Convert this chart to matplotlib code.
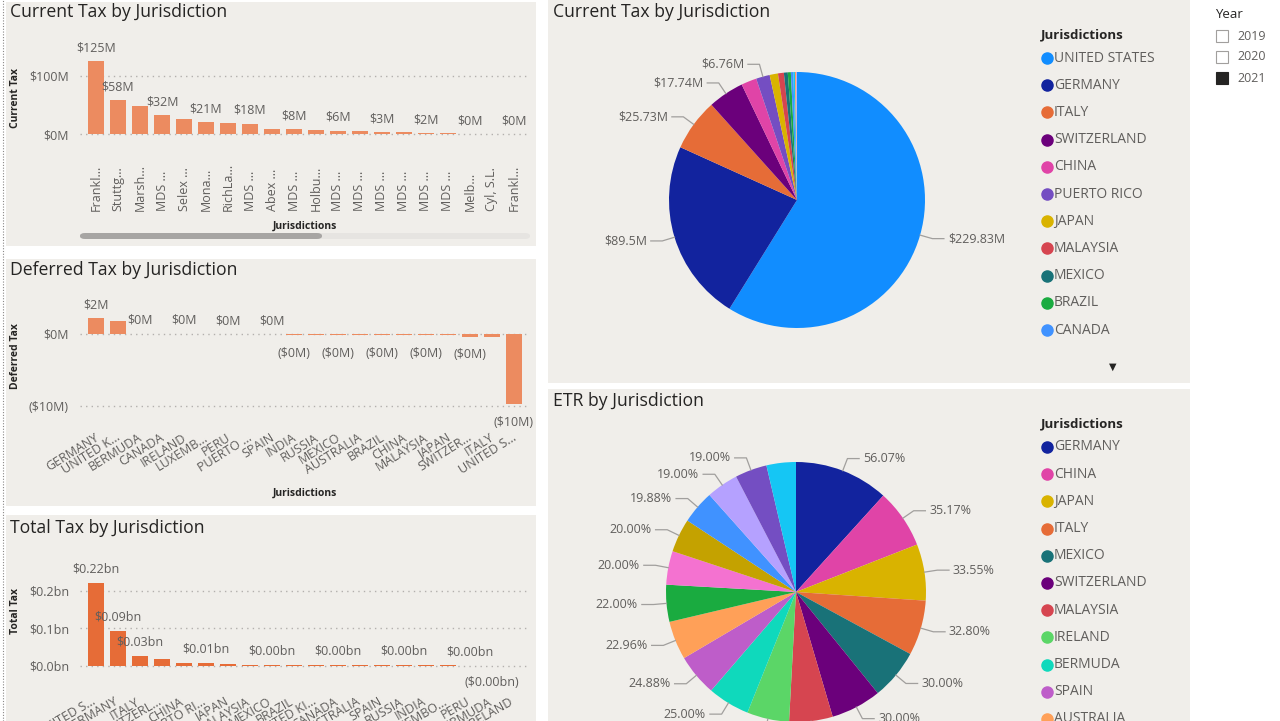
import numpy as np
import matplotlib.pyplot as plt
import matplotlib.transforms as mtransforms
from matplotlib.patches import Rectangle, FancyBboxPatch
from matplotlib.lines import Line2D

plt.rcParams['font.family'] = ['Open Sans', 'DejaVu Sans']

# ---- data -------------------------------------------------------------
cur_entities = ["Frankl...", "Stuttg...", "Marsh...", "MDS ...", "Selex ...", "Mona...",
                "RichLa...", "MDS ...", "Abex ...", "MDS ...", "Holbu...", "MDS ...",
                "MDS ...", "MDS ...", "MDS ...", "MDS ...", "MDS ...", "Melb...",
                "Cyl, S.L.", "Frankl..."]
cur_values = [125, 58, 49, 32, 26, 21, 19, 18, 9.5, 8, 6.5, 6, 4.8, 3, 3, 2, 2, 0.4, 0.4, 0.4]
cur_shown = [0, 1, 3, 5, 7, 9, 11, 13, 15, 17, 19]

def_names = ["GERMANY", "UNITED K...", "BERMUDA", "CANADA", "IRELAND", "LUXEMB...",
             "PERU", "PUERTO ...", "SPAIN", "INDIA", "RUSSIA", "MEXICO", "AUSTRALIA",
             "BRAZIL", "CHINA", "MALAYSIA", "JAPAN", "SWITZER...", "ITALY", "UNITED S..."]
def_values = [2.2, 1.8, 0.05, 0.04, 0.04, 0.03, 0.03, 0.02, 0.02, -0.15, -0.15, -0.15,
              -0.15, -0.15, -0.15, -0.15, -0.15, -0.4, -0.4, -9.76]
def_shown = [0, 2, 4, 6, 8, 9, 11, 13, 15, 17, 19]

tot_names = ["UNITED S...", "GERMANY", "ITALY", "SWITZERL...", "CHINA", "PUERTO RI...",
             "JAPAN", "MALAYSIA", "MEXICO", "BRAZIL", "UNITED KI...", "CANADA",
             "AUSTRALIA", "SPAIN", "RUSSIA", "INDIA", "LUXEMBO...", "PERU", "BERMUDA",
             "IRELAND"]
tot_values = [0.220, 0.0917, 0.0253, 0.0173, 0.0075, 0.0068, 0.0040, 0.0029, 0.0025,
              0.0022, 0.0021, 0.0019, 0.0018, 0.0017, 0.0016, 0.0015, 0.0014, 0.0002,
              -0.0008, -0.0010]
tot_shown = [0, 1, 2, 5, 8, 11, 14, 17, 18]

pie_names = ["UNITED STATES", "GERMANY", "ITALY", "SWITZERLAND", "CHINA", "PUERTO RICO",
             "JAPAN", "MALAYSIA", "MEXICO", "BRAZIL", "CANADA", "UNITED KINGDOM",
             "AUSTRALIA", "SPAIN"]
pie_values = [229.83, 89.5, 25.73, 17.74, 7.6, 6.76, 4.1, 2.9, 1.9, 1.5, 1.2, 0.8, 0.6, 0.4]
pie_colors = ["#118DFF", "#12239E", "#E66C37", "#6B007B", "#E044A7", "#744EC2", "#D9B300",
              "#D64550", "#197278", "#1AAB40", "#4092FF", "#15C6F4", "#FFA058", "#B5A1FF"]
pie_labelled = [0, 1, 2, 3, 5]
pie_legend_n = 11

etr_names = ["GERMANY", "CHINA", "JAPAN", "ITALY", "MEXICO", "SWITZERLAND", "MALAYSIA",
             "IRELAND", "BERMUDA", "SPAIN", "AUSTRALIA", "BRAZIL", "RUSSIA", "PERU",
             "CANADA", "UNITED KINGDOM", "PUERTO RICO", "LUXEMBOURG"]
etr_values = [56.07, 35.17, 33.55, 32.80, 30.00, 30.00, 25.9, 25.1, 25.00, 24.88, 22.96,
              22.00, 20.00, 20.00, 19.88, 19.00, 19.00, 17.5]
etr_colors = ["#12239E", "#E044A7", "#D9B300", "#E66C37", "#197278", "#6B007B", "#D64550",
              "#5BD667", "#0FD9BC", "#BE5DC9", "#FFA058", "#1AAB40", "#F472D0", "#C4A200",
              "#4092FF", "#B5A1FF", "#744EC2", "#15C6F4"]
etr_legend_n = 11

years = ["2019", "2020", "2021"]
year_selected = [False, False, True]

# ---- style ------------------------------------------------------------
W, H = 1280, 721
BG = "#F0EEEA"
DARK = "#252423"
GREY = "#605E5C"
GRID = "#B3B0AD"
BAR_LT = "#EC8B60"
BAR_DK = "#E66C37"

fig = plt.figure(figsize=(W / 100, H / 100), dpi=100)
fig.patch.set_facecolor("white")


def ax_px(l, t, w, h):
    a = fig.add_axes([l / W, 1 - (t + h) / H, w / W, h / H])
    a.set_facecolor("none")
    return a


def rect_px(l, t, w, h, color, z=-5):
    fig.add_artist(Rectangle((l / W, 1 - (t + h) / H), w / W, h / H,
                             transform=fig.transFigure, color=color, zorder=z, lw=0))


def ftext(x, y, s, **kw):
    return fig.text(x / W, 1 - y / H, s, **kw)


# panel backgrounds
rect_px(6, 2, 530, 244, BG)
rect_px(6, 259, 530, 247, BG)
rect_px(6, 515, 530, 206, BG)
rect_px(548, 0, 642, 383, BG)
rect_px(548, 389, 642, 332, BG)
fig.add_artist(Line2D([3 / W, 3 / W], [0, 1], transform=fig.transFigure,
                      color="#8A8886", lw=0.8, ls=(0, (1, 1.5))))

TITLE = dict(fontsize=12.7, color=DARK, va="center", ha="left")
ftext(10, 12, "Current Tax by Jurisdiction", **TITLE)
ftext(10, 270, "Deferred Tax by Jurisdiction", **TITLE)
ftext(10, 528, "Total Tax by Jurisdiction", **TITLE)
ftext(553, 12, "Current Tax by Jurisdiction", **TITLE)
ftext(553, 401, "ETR by Jurisdiction", **TITLE)


def style_bar_ax(ax, yticks, ylabels):
    for s in ax.spines.values():
        s.set_visible(False)
    ax.set_yticks(yticks)
    ax.set_yticklabels(ylabels, fontsize=9, color=GREY)
    ax.tick_params(length=0, pad=8)
    ax.set_xticks([])
    ax.yaxis.grid(True, ls=(0, (1, 3)), color=GRID, lw=1)
    ax.set_axisbelow(True)


def bar_labels(ax, values, shown, fmt, up, down):
    for i in shown:
        v = values[i]
        if v >= 0:
            ax.annotate(fmt(v), (i, v), xytext=(0, up), textcoords="offset points",
                        ha="center", va="center", fontsize=9, color=GREY)
        else:
            ax.annotate(fmt(v), (i, v), xytext=(0, -down), textcoords="offset points",
                        ha="center", va="center", fontsize=9, color=GREY)


def fmt_m(v):
    return f"${v:.0f}M" if v >= 0 else f"(${abs(v):.0f}M)"


def fmt_bn(v):
    return f"${v:.2f}bn" if v >= 0 else f"(${abs(v):.2f}bn)"


# ---- current tax bar -------------------------------------------------
x = np.arange(len(cur_values))
ax1 = ax_px(80, 40, 450, 100)
ax1.bar(x, cur_values, width=0.75, color=BAR_LT, zorder=3)
ax1.set_xlim(-0.73, 19.73)
ax1.set_ylim(-10.3, 162)
style_bar_ax(ax1, [0, 100], ["$0M", "$100M"])
bar_labels(ax1, cur_values, cur_shown, fmt_m, 9.5, 12)
tr1 = mtransforms.blended_transform_factory(ax1.transData, fig.transFigure)
for i, n in enumerate(cur_entities):
    ax1.text(i, 1 - 211 / H, n, transform=tr1, rotation=90, rotation_mode="anchor",
             ha="left", va="center", fontsize=9, color=GREY)
ftext(305, 226, "Jurisdictions", fontsize=7.5, fontweight="bold", color=DARK, ha="center", va="center")
ftext(16, 98, "Current Tax", fontsize=7.5, fontweight="bold", color=DARK, ha="center",
      va="center", rotation=90)
# scroll bar
fig.add_artist(FancyBboxPatch((80 / W, 1 - 239 / H), 450 / W, 6 / H,
                              boxstyle="round,pad=0,rounding_size=0.004",
                              transform=fig.transFigure, color="#E6E4E1", lw=0))
fig.add_artist(FancyBboxPatch((80 / W, 1 - 239 / H), 242 / W, 6 / H,
                              boxstyle="round,pad=0,rounding_size=0.004",
                              transform=fig.transFigure, color="#A7A5A3", lw=0))

# ---- deferred tax bar ------------------------------------------------
ax2 = ax_px(80, 290, 450, 125)
ax2.bar(x, def_values, width=0.75, color=BAR_LT, zorder=3)
ax2.set_xlim(-0.73, 19.73)
ax2.set_ylim(-11.25, 6.1)
style_bar_ax(ax2, [-10, 0], ["($10M)", "$0M"])
bar_labels(ax2, def_values, def_shown, fmt_m, 9.5, 13)
tr2 = mtransforms.blended_transform_factory(ax2.transData, fig.transFigure)
for i, n in enumerate(def_names):
    ax2.text(i - 0.1, 1 - 431 / H, n, transform=tr2, rotation=32, rotation_mode="anchor",
             ha="right", va="top", fontsize=9, color=GREY)
ftext(305, 493, "Jurisdictions", fontsize=7.5, fontweight="bold", color=DARK, ha="center", va="center")
ftext(16, 356, "Deferred Tax", fontsize=7.5, fontweight="bold", color=DARK, ha="center",
      va="center", rotation=90)

# ---- total tax bar ---------------------------------------------------
ax3 = ax_px(80, 560, 450, 115)
ax3.bar(x, tot_values, width=0.75, color=BAR_DK, zorder=3)
ax3.set_xlim(-0.73, 19.73)
ax3.set_ylim(-0.025, 0.282)
style_bar_ax(ax3, [0, 0.1, 0.2], ["$0.0bn", "$0.1bn", "$0.2bn"])
bar_labels(ax3, tot_values, tot_shown, fmt_bn, 10, 12)
tr3 = mtransforms.blended_transform_factory(ax3.transData, fig.transFigure)
for i, n in enumerate(tot_names):
    ax3.text(i - 0.2, 1 - 695 / H, n, transform=tr3, rotation=30, rotation_mode="anchor",
             ha="right", va="top", fontsize=9, color=GREY)
ftext(16, 611, "Total Tax", fontsize=7.5, fontweight="bold", color=DARK, ha="center",
      va="center", rotation=90)


# ---- pies ------------------------------------------------------------
def draw_pie(ax, values, colors, labels):
    wedges, _ = ax.pie(values, colors=colors, startangle=90, counterclock=False,
                       radius=1, wedgeprops=dict(lw=0))
    ax.set_xlim(-1.25, 1.25)
    ax.set_ylim(-1.25, 1.25)
    ax.set_aspect("equal")
    for w, lab in zip(wedges, labels):
        if lab is None:
            continue
        th = np.deg2rad((w.theta1 + w.theta2) / 2)
        c, s = np.cos(th), np.sin(th)
        p0 = (1.0 * c, 1.0 * s)
        p1 = (1.1 * c, 1.1 * s)
        side = 1 if c >= 0 else -1
        p2 = (p1[0] + side * 0.09, p1[1])
        ax.plot([p0[0], p1[0], p2[0]], [p0[1], p1[1], p2[1]], color="#A19F9D",
                lw=0.9, clip_on=False)
        ax.text(p2[0] + side * 0.03, p2[1], lab, ha="left" if side > 0 else "right",
                va="center", fontsize=9, color=GREY, clip_on=False)


def draw_legend(names, colors, x, y0, step):
    ftext(x, y0 - 23, "Jurisdictions", fontsize=9.5, fontweight="bold", color=DARK,
          ha="left", va="center")
    for k, (n, c) in enumerate(zip(names, colors)):
        y = y0 + k * step
        fig.add_artist(Line2D([(x + 6) / W], [1 - y / H], transform=fig.transFigure,
                              marker="o", ms=8, color=c, lw=0))
        ftext(x + 13, y, n, fontsize=10, color=GREY, ha="left", va="center")


ax4 = ax_px(637, 40, 320, 320)
pie_lbls = [f"${v}M" if i in pie_labelled else None for i, v in enumerate(pie_values)]
draw_pie(ax4, pie_values, pie_colors, pie_lbls)
draw_legend(pie_names[:pie_legend_n], pie_colors[:pie_legend_n], 1041, 58, 27.2)
ftext(1113, 367, "\u25BC", fontsize=7, color=DARK, ha="center", va="center")

ax5 = ax_px(633.5, 429.5, 325, 325)
etr_lbls = [f"{v:.2f}%" for v in etr_values[:-1]] + [None]
draw_pie(ax5, etr_values, etr_colors, etr_lbls)
draw_legend(etr_names[:etr_legend_n], etr_colors[:etr_legend_n], 1041, 447, 27.2)

# ---- year slicer -----------------------------------------------------
ftext(1215, 14, "Year", fontsize=9.5, color=DARK, ha="left", va="center")
for k, (yr, sel) in enumerate(zip(years, year_selected)):
    yc = 36 + k * 21
    fig.add_artist(Rectangle((1216 / W, 1 - (yc + 6) / H), 12 / W, 12 / H,
                             transform=fig.transFigure, facecolor=DARK if sel else "white",
                             edgecolor=DARK if sel else "#A19F9D", lw=0.8))
    ftext(1237, yc, yr, fontsize=9, color=GREY, ha="left", va="center")

fig.savefig("out.png", dpi=100, facecolor="white")
